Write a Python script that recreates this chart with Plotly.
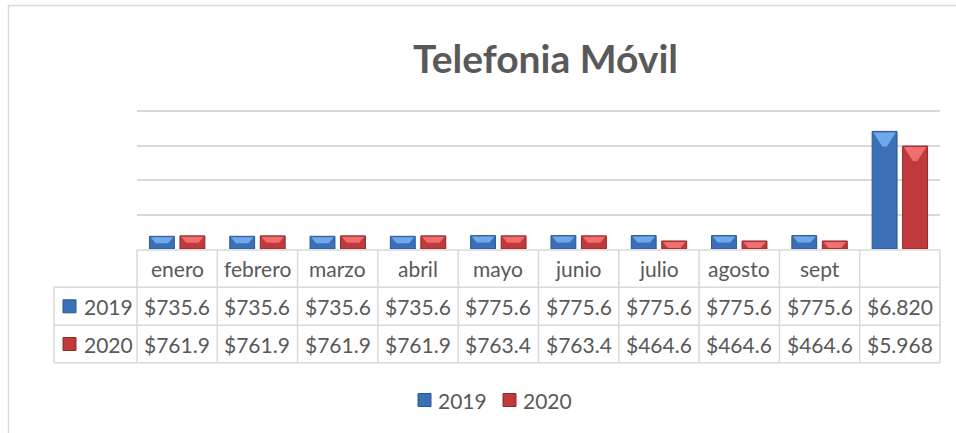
import plotly.graph_objects as go

# ---------------- data ----------------
months = ["enero", "febrero", "marzo", "abril", "mayo", "junio", "julio", "agosto", "sept", ""]
series_names = ["2019", "2020"]
values_2019 = [735.6, 735.6, 735.6, 735.6, 775.6, 775.6, 775.6, 775.6, 775.6, 6820.4]
values_2020 = [761.9, 761.9, 761.9, 761.9, 763.4, 763.4, 464.6, 464.6, 464.6, 5968.2]
labels_2019 = ["$735.6", "$735.6", "$735.6", "$735.6", "$775.6", "$775.6", "$775.6", "$775.6", "$775.6", "$6.820"]
labels_2020 = ["$761.9", "$761.9", "$761.9", "$761.9", "$763.4", "$763.4", "$464.6", "$464.6", "$464.6", "$5.968"]
title_text = "Telefonia Móvil"

# ---------------- styling ----------------
W, H = 956, 433
L, R, T, B = 137, 16, 110, 184
PW, PH = W - L - R, H - T - B
YMAX = 8000
YTOP = 8060
TXT = "#595959"
GRID = "#d9d9d9"
FONT = "Lato"

blue = dict(body="#3b70b7", edge="#2b578f", light="#6eaaeb")
red = dict(body="#c0393b", edge="#8b2a2c", light="#f06e6e")
styles = [blue, red]
offsets = [-0.19, 0.19]
bw = 0.31

n = len(months)
xs = list(range(n))


def px_to_paper_x(px):
    return (px - L) / PW


def px_to_paper_y(py):
    return (H - B - py) / PH


fig = go.Figure()

ux = n / PW          # data units per px (x)
uy = YTOP / PH       # data units per px (y)

for vals, st, off, name in zip([values_2019, values_2020], styles, offsets, series_names):
    fig.add_trace(go.Bar(
        x=[i + off for i in xs], y=vals, width=bw, name=name,
        marker=dict(color=st["body"], line=dict(color=st["edge"], width=1)),
        showlegend=False, hoverinfo="skip",
    ))
    # bevel highlight on top of each bar
    bx, by = [], []
    for i, v in zip(xs, vals):
        c = i + off
        x0, x1 = c - bw / 2 + 1.2 * ux, c + bw / 2 - 1.2 * ux
        tall = v / uy > 40
        depth = 15 if tall else 7
        inset = 9 if tall else 5
        bx += [x0, x1, x1 - inset * ux, x0 + inset * ux, x0, None]
        by += [v - 1 * uy, v - 1 * uy, v - depth * uy, v - depth * uy, v - 1 * uy, None]
    fig.add_trace(go.Scatter(
        x=bx, y=by, mode="lines", fill="toself", fillcolor=st["light"],
        line=dict(width=0, color=st["light"]), showlegend=False, hoverinfo="skip",
    ))

shapes = []
annotations = []

# chart border
shapes.append(dict(type="rect", xref="paper", yref="paper",
                   x0=px_to_paper_x(8.5), x1=px_to_paper_x(W + 20),
                   y0=px_to_paper_y(H + 20), y1=px_to_paper_y(5.5),
                   line=dict(color=GRID, width=1.5), layer="below"))

# data table
row_y = [250, 287.3, 325.3, 362.7]
col_x = [L + PW * k / n for k in range(n + 1)]
left_x = 54
lc = dict(color=GRID, width=1.5)
shapes.append(dict(type="line", xref="paper", yref="paper",
                   x0=px_to_paper_x(col_x[0]), x1=px_to_paper_x(col_x[-1]),
                   y0=px_to_paper_y(row_y[0]), y1=px_to_paper_y(row_y[0]), line=lc))
for ry in row_y[1:]:
    shapes.append(dict(type="line", xref="paper", yref="paper",
                       x0=px_to_paper_x(left_x), x1=px_to_paper_x(col_x[-1]),
                       y0=px_to_paper_y(ry), y1=px_to_paper_y(ry), line=lc))
for cx in col_x:
    shapes.append(dict(type="line", xref="paper", yref="paper",
                       x0=px_to_paper_x(cx), x1=px_to_paper_x(cx),
                       y0=px_to_paper_y(row_y[0]), y1=px_to_paper_y(row_y[-1]), line=lc))
shapes.append(dict(type="line", xref="paper", yref="paper",
                   x0=px_to_paper_x(left_x), x1=px_to_paper_x(left_x),
                   y0=px_to_paper_y(row_y[1]), y1=px_to_paper_y(row_y[-1]), line=lc))

tfont = dict(family=FONT, size=21, color=TXT)
for k in range(n):
    cxm = (col_x[k] + col_x[k + 1]) / 2
    for r, txt in enumerate([months[k], labels_2019[k], labels_2020[k]]):
        cy = (row_y[r] + row_y[r + 1]) / 2
        annotations.append(dict(text=txt, xref="paper", yref="paper",
                                x=px_to_paper_x(cxm), y=px_to_paper_y(cy),
                                xanchor="center", yanchor="middle", showarrow=False, font=tfont))

# row headers with keys
for r, (name, st) in enumerate(zip(series_names, styles)):
    cy = (row_y[r + 1] + row_y[r + 2]) / 2
    shapes.append(dict(type="rect", xref="paper", yref="paper",
                       x0=px_to_paper_x(63), x1=px_to_paper_x(76),
                       y0=px_to_paper_y(cy + 6.5), y1=px_to_paper_y(cy - 6.5),
                       fillcolor=st["body"], line=dict(color=st["edge"], width=1)))
    annotations.append(dict(text=name, xref="paper", yref="paper",
                            x=px_to_paper_x(82), y=px_to_paper_y(cy),
                            xanchor="left", yanchor="middle", showarrow=False, font=tfont))

# bottom legend
leg_y = 400
for name, st, mx in zip(series_names, styles, [418, 503]):
    shapes.append(dict(type="rect", xref="paper", yref="paper",
                       x0=px_to_paper_x(mx), x1=px_to_paper_x(mx + 13),
                       y0=px_to_paper_y(leg_y + 6.5), y1=px_to_paper_y(leg_y - 6.5),
                       fillcolor=st["body"], line=dict(color=st["edge"], width=1)))
    annotations.append(dict(text=name, xref="paper", yref="paper",
                            x=px_to_paper_x(mx + 18), y=px_to_paper_y(leg_y),
                            xanchor="left", yanchor="middle", showarrow=False, font=tfont))

# title
annotations.append(dict(text="<b>" + title_text + "</b>", xref="paper", yref="paper",
                        x=px_to_paper_x(545), y=px_to_paper_y(58),
                        xanchor="center", yanchor="middle", showarrow=False,
                        font=dict(family=FONT, size=39, color=TXT)))

fig.update_layout(
    width=W, height=H,
    margin=dict(l=L, r=R, t=T, b=B),
    paper_bgcolor="white", plot_bgcolor="white",
    barmode="overlay",
    xaxis=dict(range=[-0.5, n - 0.5], showgrid=False, zeroline=False,
               showticklabels=False, ticks="", fixedrange=True),
    yaxis=dict(range=[0, YTOP], dtick=2000, showgrid=True, gridcolor=GRID, gridwidth=2,
               zeroline=False, showticklabels=False, ticks="", fixedrange=True),
    shapes=shapes, annotations=annotations,
    showlegend=False,
)

fig.write_html("out.html", config={"displayModeBar": False},
               post_script="document.body.style.margin='0';")
